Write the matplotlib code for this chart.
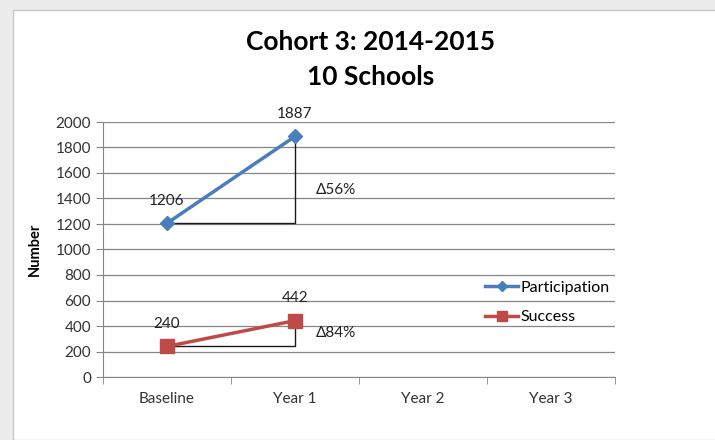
import numpy as np
import matplotlib.pyplot as plt
from matplotlib.patches import Rectangle

categories = ["Baseline", "Year 1", "Year 2", "Year 3"]
participation = [1206, 1887]
success = [240, 442]
deltas = ["\u039456%", "\u039484%"]

plt.rcParams["font.family"] = ["Lato", "DejaVu Sans"]

fig = plt.figure(figsize=(7.15, 4.4), dpi=100)
fig.patch.set_facecolor("#ececec")
fig.patches.append(Rectangle((13 / 715, 0), 1, 1 - 10 / 440, transform=fig.transFigure,
                             facecolor="white", edgecolor="#c8c8c8", linewidth=1, zorder=-5))

ax = fig.add_axes([103 / 715, 1 - 377 / 440, 512 / 715, 255 / 440])
ax.set_facecolor("none")
ax.set_zorder(2)

x = np.arange(len(categories))
blue = "#4a7ebb"
red = "#be4b48"

# helper lines for the change
ax.plot([x[0], x[1], x[1]], [participation[0], participation[0], participation[1]],
        color="#1a1a1a", linewidth=1, zorder=2)
ax.plot([x[0], x[1], x[1]], [success[0], success[0], success[1]],
        color="#1a1a1a", linewidth=1, zorder=2)

ax.plot(x[:2], participation, color=blue, linewidth=2.5, marker="D", markersize=7,
        label="Participation", zorder=3)
ax.plot(x[:2], success, color=red, linewidth=2.5, marker="s", markersize=10,
        label="Success", zorder=3)

for xi, v in zip(x[:2], participation):
    ax.annotate(str(v), (xi, v), xytext=(0, 11), textcoords="offset points",
                ha="center", va="bottom", fontsize=11, color="#222222")
for xi, v in zip(x[:2], success):
    ax.annotate(str(v), (xi, v), xytext=(0, 11), textcoords="offset points",
                ha="center", va="bottom", fontsize=11, color="#222222")

ax.text(x[1] + 0.16, 1470, deltas[0], fontsize=11, color="#222222", va="center")
ax.text(x[1] + 0.16, 345, deltas[1], fontsize=11, color="#222222", va="center")

ax.set_xlim(-0.5, 3.5)
ax.set_ylim(0, 2000)
ax.set_yticks(np.arange(0, 2001, 200))
ax.set_xticks(x)
ax.set_xticklabels(categories, fontsize=11, color="#333333")
ax.set_xticks(np.arange(-0.5, 3.6, 1), minor=True)
ax.tick_params(axis="x", which="major", length=0, pad=11)
ax.tick_params(axis="x", which="minor", length=5, color="#868686")
ax.tick_params(axis="y", length=5, color="#868686", labelsize=11, labelcolor="#333333")
ax.grid(axis="y", color="#868686", linewidth=0.9)
ax.set_axisbelow(True)
for s in ["top", "right"]:
    ax.spines[s].set_visible(False)
for s in ["left", "bottom"]:
    ax.spines[s].set_color("#868686")

ax.set_ylabel("Number", fontsize=10.5, fontweight="bold", labelpad=10)

ax.legend(loc="center left", bbox_to_anchor=(0.746, 0.292), frameon=False, fontsize=11.5,
          handlelength=2.1, handletextpad=0.1, labelspacing=0.95, markerscale=0.75,
          borderpad=0, borderaxespad=0)

fig.text(371 / 715, 1 - 42 / 440, "Cohort 3: 2014-2015", ha="center", va="center",
         fontsize=19, fontweight="bold")
fig.text(371 / 715, 1 - 77 / 440, "10 Schools", ha="center", va="center",
         fontsize=19, fontweight="bold")

fig.savefig("out.png", dpi=100, facecolor=fig.get_facecolor())
